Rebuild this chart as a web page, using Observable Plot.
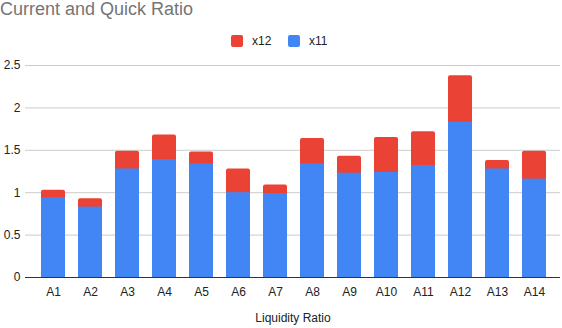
<!DOCTYPE html>
<html>
<head>
<meta charset="utf-8">
<script src="https://cdn.jsdelivr.net/npm/d3@7"></script>
<script src="https://cdn.jsdelivr.net/npm/@observablehq/plot@0.6"></script>
<style>
  body { margin: 0; background: #fff; font-family: "Liberation Sans", Arial, sans-serif; }
  #wrap { position: relative; width: 562px; height: 328px; overflow: hidden; }
  #title { position: absolute; left: 0; top: -1px; font-size: 18px; color: #757575; white-space: nowrap; }
  #legend { position: absolute; left: 231px; top: 34px; font-size: 12px; color: #222; display: flex; align-items: center; }
  .sw { width: 12px; height: 12px; border-radius: 2px; display: inline-block; margin-right: 9px; }
  .item { display: flex; align-items: center; width: 57px; }
  #chart { position: absolute; left: 0; top: 50px; }
</style>
</head>
<body>
<div id="wrap">
  <div id="title">Current and Quick Ratio</div>
  <div id="legend"></div>
  <div id="chart"></div>
</div>
<script>
const categories = ["A1","A2","A3","A4","A5","A6","A7","A8","A9","A10","A11","A12","A13","A14"];
const x11 = [0.94, 0.83, 1.28, 1.39, 1.34, 1.00, 0.99, 1.34, 1.23, 1.24, 1.32, 1.83, 1.28, 1.16];
const x12 = [0.09, 0.10, 0.21, 0.29, 0.14, 0.28, 0.10, 0.30, 0.20, 0.41, 0.40, 0.55, 0.10, 0.33];
const seriesNames = ["x12", "x11"];
const seriesColors = ["#ea4335", "#4285f4"];
const yTicks = [0, 0.5, 1, 1.5, 2, 2.5];
const xTitle = "Liquidity Ratio";

const rows = categories.map((c, i) => ({cat: c, x11: x11[i], x12: x12[i], total: x11[i] + x12[i]}));

// legend
const legend = document.getElementById("legend");
seriesNames.forEach((s, i) => {
  const it = document.createElement("div");
  it.className = "item";
  it.innerHTML = `<span class="sw" style="background:${seriesColors[i]}"></span><span>${s}</span>`;
  legend.appendChild(it);
});

const chart = Plot.plot({
  width: 562,
  height: 278,
  marginLeft: 25,
  marginRight: 2,
  marginTop: 15,
  marginBottom: 51,
  style: { fontFamily: "Liberation Sans, Arial, sans-serif", fontSize: "12px", color: "#222", background: "#fff" },
  x: { domain: categories, paddingInner: 0.36, paddingOuter: 0.35, align: 0.54, label: null },
  y: { domain: [0, 2.5], label: null },
  marks: [
    Plot.ruleY(yTicks.filter(d => d > 0), { stroke: "#ccc", strokeWidth: 1 }),
    // x12 stacked on top of x11: draw the full stack in red (rounded top), then x11 over it
    Plot.barY(rows, { x: "cat", y1: 0, y2: "total", fill: seriesColors[0], rx: 2 }),
    Plot.barY(rows, { x: "cat", y1: 0, y2: "x11", fill: seriesColors[1] }),
    Plot.ruleY([0], { stroke: "#333", strokeWidth: 1 }),
    Plot.axisY({ ticks: yTicks, tickFormat: d => String(d), tickSize: 0, tickPadding: 5, label: null, fill: "#222" }),
    Plot.axisX({ tickSize: 0, tickPadding: 10, label: null, fill: "#222" }),
    Plot.text([xTitle], { frameAnchor: "bottom", dy: 44, text: d => d, fill: "#222", fontSize: 12 })
  ]
});
document.getElementById("chart").appendChild(chart);
</script>
</body>
</html>
